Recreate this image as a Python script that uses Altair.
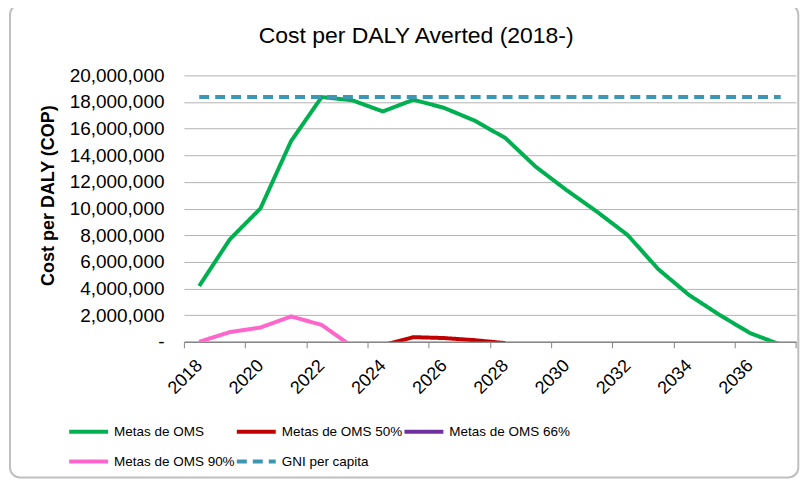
import altair as alt
import pandas as pd

years = list(range(2018, 2038))

# values in COP (negative values are clipped at 0 in the chart)
metas_oms = [4190000, 7690000, 10010000, 15060000, 18370000, 18130000, 17290000, 18170000,
             17560000, 16600000, 15300000, 13130000, 11390000, 9760000, 8010000, 5450000,
             3520000, 2020000, 650000, -220000]
metas_50_years = [2024, 2025, 2026, 2027, 2028]
metas_50 = [-250000, 350000, 280000, 120000, -100000]
metas_66_years = []
metas_66 = []
metas_90_years = [2018, 2019, 2020, 2021, 2022, 2023]
metas_90 = [0, 730000, 1070000, 1900000, 1270000, -360000]
gni_per_capita = [18370000] * len(years)

series_names = ["Metas de OMS", "Metas de OMS 50%", "Metas de OMS 66%",
                "Metas de OMS 90%", "GNI per capita"]
series_colors = ["#00B050", "#C00000", "#7030A0", "#FF66CC", "#3E97B2"]
series_dashes = [[1, 0], [1, 0], [1, 0], [1, 0], [10, 6]]

y_ticks = [0, 2000000, 4000000, 6000000, 8000000, 10000000, 12000000,
           14000000, 16000000, 18000000, 20000000]
x_tick_bounds = [2017.5 + 2 * i for i in range(11)]

rows = []
for yr, v in zip(years, metas_oms):
    rows.append({"year": yr, "value": v, "series": series_names[0]})
for yr, v in zip(metas_50_years, metas_50):
    rows.append({"year": yr, "value": v, "series": series_names[1]})
for yr, v in zip(metas_66_years, metas_66):
    rows.append({"year": yr, "value": v, "series": series_names[2]})
for yr, v in zip(metas_90_years, metas_90):
    rows.append({"year": yr, "value": v, "series": series_names[3]})
for yr, v in zip(years, gni_per_capita):
    rows.append({"year": yr, "value": v, "series": series_names[4]})
df = pd.DataFrame(rows)

W = 613.4
H = 267
band = W / 20

lines = alt.Chart(df).mark_line(strokeWidth=4, clip=True, strokeJoin="round").encode(
    x=alt.X("year:Q",
            scale=alt.Scale(domain=[2017.5, 2037.5], nice=False, zero=False),
            axis=alt.Axis(values=x_tick_bounds,
                          labelExpr="datum.value < 2037 ? toString(datum.value + 0.5) : ''",
                          labelOffset=band / 2, labelAngle=315, labelAlign="right",
                          labelBaseline="middle", labelFlush=False, labelOverlap=False,
                          labelPadding=15, labelFontSize=18, labelColor="#000000",
                          grid=False, tickSize=6, tickColor="#868686", domainColor="#868686",
                          domainWidth=1.5, title=None)),
    y=alt.Y("value:Q",
            scale=alt.Scale(domain=[0, 20000000], nice=False),
            axis=alt.Axis(values=y_ticks,
                          labelExpr="datum.value == 0 ? '-' : format(datum.value, ',')",
                          labelFontSize=19, labelColor="#000000", labelPadding=20,
                          domain=False, ticks=False, grid=True, gridColor="#B3B3B3",
                          title="Cost per DALY (COP)", titleFontSize=18, titleFontWeight="bold",
                          titleColor="#000000", titleAngle=270, titleBaseline="bottom",
                          titleAlign="center", titleX=-127, titleY=120)),
    color=alt.Color("series:N", scale=alt.Scale(domain=series_names, range=series_colors),
                    legend=alt.Legend(title=None)),
    strokeDash=alt.StrokeDash("series:N", scale=alt.Scale(domain=series_names, range=series_dashes),
                              legend=alt.Legend(title=None)),
)

frame = alt.Chart(pd.DataFrame({"f": [0]})).mark_rect(
    fill="transparent", stroke="#BFBFBF", strokeWidth=2, cornerRadius=10
).encode(
    x=alt.value(-174.3), x2=alt.value(615.7), y=alt.value(-71), y2=alt.value(403)
)

chart = alt.layer(frame, lines).properties(
    width=W, height=H,
    padding={"left": 176.3, "top": 67, "right": 4, "bottom": 138},
    autosize=alt.AutoSizeParams(type="none"),
    title=alt.TitleParams("Cost per DALY Averted (2018-)", fontSize=23, fontWeight="normal",
                          color="#000000", anchor="middle", offset=-45, dx=-74),
).configure(font="Liberation Sans").configure_view(stroke=None).configure_legend(
    orient="none", legendX=-117, legendY=335.5, direction="horizontal", columns=3,
    columnPadding=-11, rowPadding=-7, symbolType="stroke", symbolSize=1521,
    symbolStrokeWidth=4, labelFont="Liberation Sans", labelFontSize=13.5,
    labelColor="#000000", labelOffset=4, labelLimit=300
)

chart.save("out.html", embed_options={"renderer": "svg", "actions": False})
